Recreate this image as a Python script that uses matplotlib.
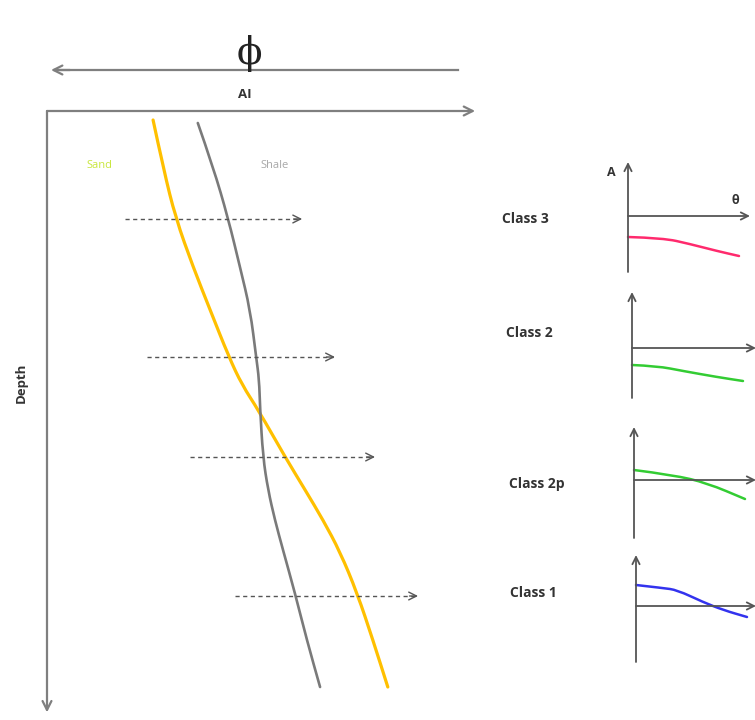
import matplotlib
matplotlib.use("Agg")
import matplotlib.pyplot as plt
from matplotlib.path import Path
from matplotlib.patches import PathPatch

# ---- well-log panel data (acoustic impedance vs depth) ----
sand_ai = [2.49, 2.74, 3.02, 3.43, 3.83, 4.27, 4.58, 4.96, 5.59, 6.06, 6.48, 6.88, 7.28, 7.65, 8.00]
sand_depth = [9, 59, 107, 156, 199, 246, 274, 299, 346, 379, 409, 441, 482, 529, 576]
shale_ai = [3.54, 3.90, 4.25, 4.53, 4.77, 4.91, 4.98, 5.00, 5.07, 5.19, 5.35, 5.54, 5.82, 6.10, 6.41]
shale_depth = [12, 56, 107, 156, 199, 246, 269, 296, 346, 379, 409, 439, 482, 529, 576]

# probing arrows: depth, start AI, end AI
probe_depth = [108, 246, 346, 485]
probe_start = [1.83, 2.35, 3.36, 4.41]
probe_end = [5.99, 6.76, 7.70, 8.71]

# ---- AVO class responses (amplitude vs incidence angle) ----
class_names = ["Class 3", "Class 2", "Class 2p", "Class 1"]
class_colors = ["#ff2a6d", "#33cc33", "#33cc33", "#3333ee"]
class_theta = [
    [0, 12.6, 22.3, 32.1, 40.0],
    [0, 9.0, 18.4, 30.6, 40.0],
    [0, 14.1, 26.3, 40.0],
    [0, 9.7, 14.8, 24.1, 31.4, 40.0],
]
class_amp = [
    [-0.42, -0.44, -0.56, -0.70, -0.80],
    [-0.34, -0.36, -0.46, -0.58, -0.66],
    [0.20, 0.10, -0.06, -0.38],
    [0.42, 0.36, 0.32, 0.08, -0.08, -0.22],
]

W, H = 755, 720
fig = plt.figure(figsize=(W / 100, H / 100), dpi=100)
fig.patch.set_facecolor("white")


def fx(x):
    return x / W


def fy(y):
    return 1 - y / H


def smooth_curve(axes, xs, ys, **kw):
    """Draw a smooth quadratic-Bezier curve guided by the given points."""
    verts = [(xs[0], ys[0])]
    codes = [Path.MOVETO]
    for i in range(1, len(xs) - 1):
        verts += [(xs[i], ys[i]), ((xs[i] + xs[i + 1]) / 2, (ys[i] + ys[i + 1]) / 2)]
        codes += [Path.CURVE3, Path.CURVE3]
    verts.append((xs[-1], ys[-1]))
    codes.append(Path.LINETO)
    patch = PathPatch(Path(verts, codes), facecolor="none", capstyle="round", **kw)
    axes.add_patch(patch)
    return patch


AXIS_GRAY = "#7f7f7f"
TEXT_DARK = "#333333"
LABEL_FONT = ["Open Sans", "DejaVu Sans"]

# ---- main log panel ----
ax = fig.add_axes([fx(47), fy(710), (473 - 47) / W, (710 - 111) / H])
ax.set_xlim(0, 10)
ax.set_ylim(599, 0)
ax.axis("off")

ax.annotate("", xy=(1.005, 1), xytext=(0, 1), xycoords="axes fraction",
            arrowprops=dict(arrowstyle="->", color=AXIS_GRAY, lw=1.6,
                            shrinkA=0, shrinkB=0, mutation_scale=16))
ax.annotate("", xy=(0, -0.004), xytext=(0, 1), xycoords="axes fraction",
            arrowprops=dict(arrowstyle="->", color=AXIS_GRAY, lw=1.6,
                            shrinkA=0, shrinkB=0, mutation_scale=16))

smooth_curve(ax, sand_ai, sand_depth, edgecolor="#ffc000", lw=2.3)
smooth_curve(ax, shale_ai, shale_depth, edgecolor="#7a7a7a", lw=1.9)

for d, x0, x1 in zip(probe_depth, probe_start, probe_end):
    ax.plot([x0, x1 - 0.05], [d, d], color="#555555", lw=1.0, ls=(0, (3, 2.5)))
    ax.annotate("", xy=(x1, d), xytext=(x1 - 0.2, d),
                arrowprops=dict(arrowstyle="->", color="#555555", lw=1.0,
                                shrinkA=0, shrinkB=0, mutation_scale=14))

ax.text(1.24, 55, "Sand", color="#c8e63c", fontsize=8, ha="center", va="center",
        family=LABEL_FONT)
ax.text(5.35, 55, "Shale", color="#a8a8a8", fontsize=8, ha="center", va="center",
        family=LABEL_FONT)

# porosity arrow above the panel
fig.add_artist(plt.Line2D([fx(55), fx(458)], [fy(70), fy(70)], color=AXIS_GRAY, lw=1.6))
ax.annotate("", xy=(fx(51), fy(70)), xytext=(fx(70), fy(70)), xycoords="figure fraction",
            arrowprops=dict(arrowstyle="->", color=AXIS_GRAY, lw=1.6,
                            shrinkA=0, shrinkB=0, mutation_scale=16))
fig.text(fx(249), fy(64), "\u03d5", fontsize=27, ha="center",
         va="baseline", family=["DejaVu Serif"], color="#222222")

fig.text(fx(245), fy(94), "AI", fontsize=9.5, fontweight="bold", ha="center", va="center",
         family=LABEL_FONT, color=TEXT_DARK)
fig.text(fx(21), fy(383), "Depth", fontsize=9.5, fontweight="bold", ha="center", va="center",
         rotation=90, family=LABEL_FONT, color=TEXT_DARK)

# ---- AVO class insets ----
# pixel boxes: axis x, arrow tip x, top, bottom, zero line y
boxes = [
    (628, 750, 162, 272, 216),
    (632, 756, 292, 398, 348),
    (634, 756, 427, 538, 480),
    (636, 756, 555, 662, 606),
]
label_pos = [(525, 219), (529, 333), (537, 484), (533, 593)]
PX_PER_DEG = 2.775
PX_PER_AMP = 50.0
INSET_GRAY = "#555555"

for i, (x0, tip, top, bot, y0) in enumerate(boxes):
    iax = fig.add_axes([fx(x0), fy(bot), (tip - x0) / W, (bot - top) / H])
    xmax = (tip - x0) / PX_PER_DEG
    ymin = (y0 - bot) / PX_PER_AMP
    ymax = (y0 - top) / PX_PER_AMP
    iax.set_xlim(0, xmax)
    iax.set_ylim(ymin, ymax)
    iax.axis("off")
    iax.annotate("", xy=(xmax, 0), xytext=(0, 0),
                 arrowprops=dict(arrowstyle="->", color=INSET_GRAY, lw=1.3,
                                 shrinkA=0, shrinkB=0, mutation_scale=13),
                 annotation_clip=False)
    iax.annotate("", xy=(0, ymax), xytext=(0, ymin),
                 arrowprops=dict(arrowstyle="->", color=INSET_GRAY, lw=1.3,
                                 shrinkA=0, shrinkB=0, mutation_scale=13),
                 annotation_clip=False)
    curve = smooth_curve(iax, class_theta[i], class_amp[i], edgecolor=class_colors[i], lw=1.8)
    curve.set_clip_on(False)
    lx, ly = label_pos[i]
    fig.text(fx(lx), fy(ly), class_names[i], fontsize=10, fontweight="bold",
             ha="center", va="center", family=LABEL_FONT, color=TEXT_DARK)

fig.text(fx(611), fy(172), "A", fontsize=9, fontweight="bold", ha="center", va="center",
         family=LABEL_FONT, color=TEXT_DARK)
fig.text(fx(735), fy(201), "\u03b8", fontsize=9, fontweight="bold", ha="center", va="center",
         family=LABEL_FONT, color=TEXT_DARK)

fig.savefig("out.png", dpi=100, facecolor="white")
